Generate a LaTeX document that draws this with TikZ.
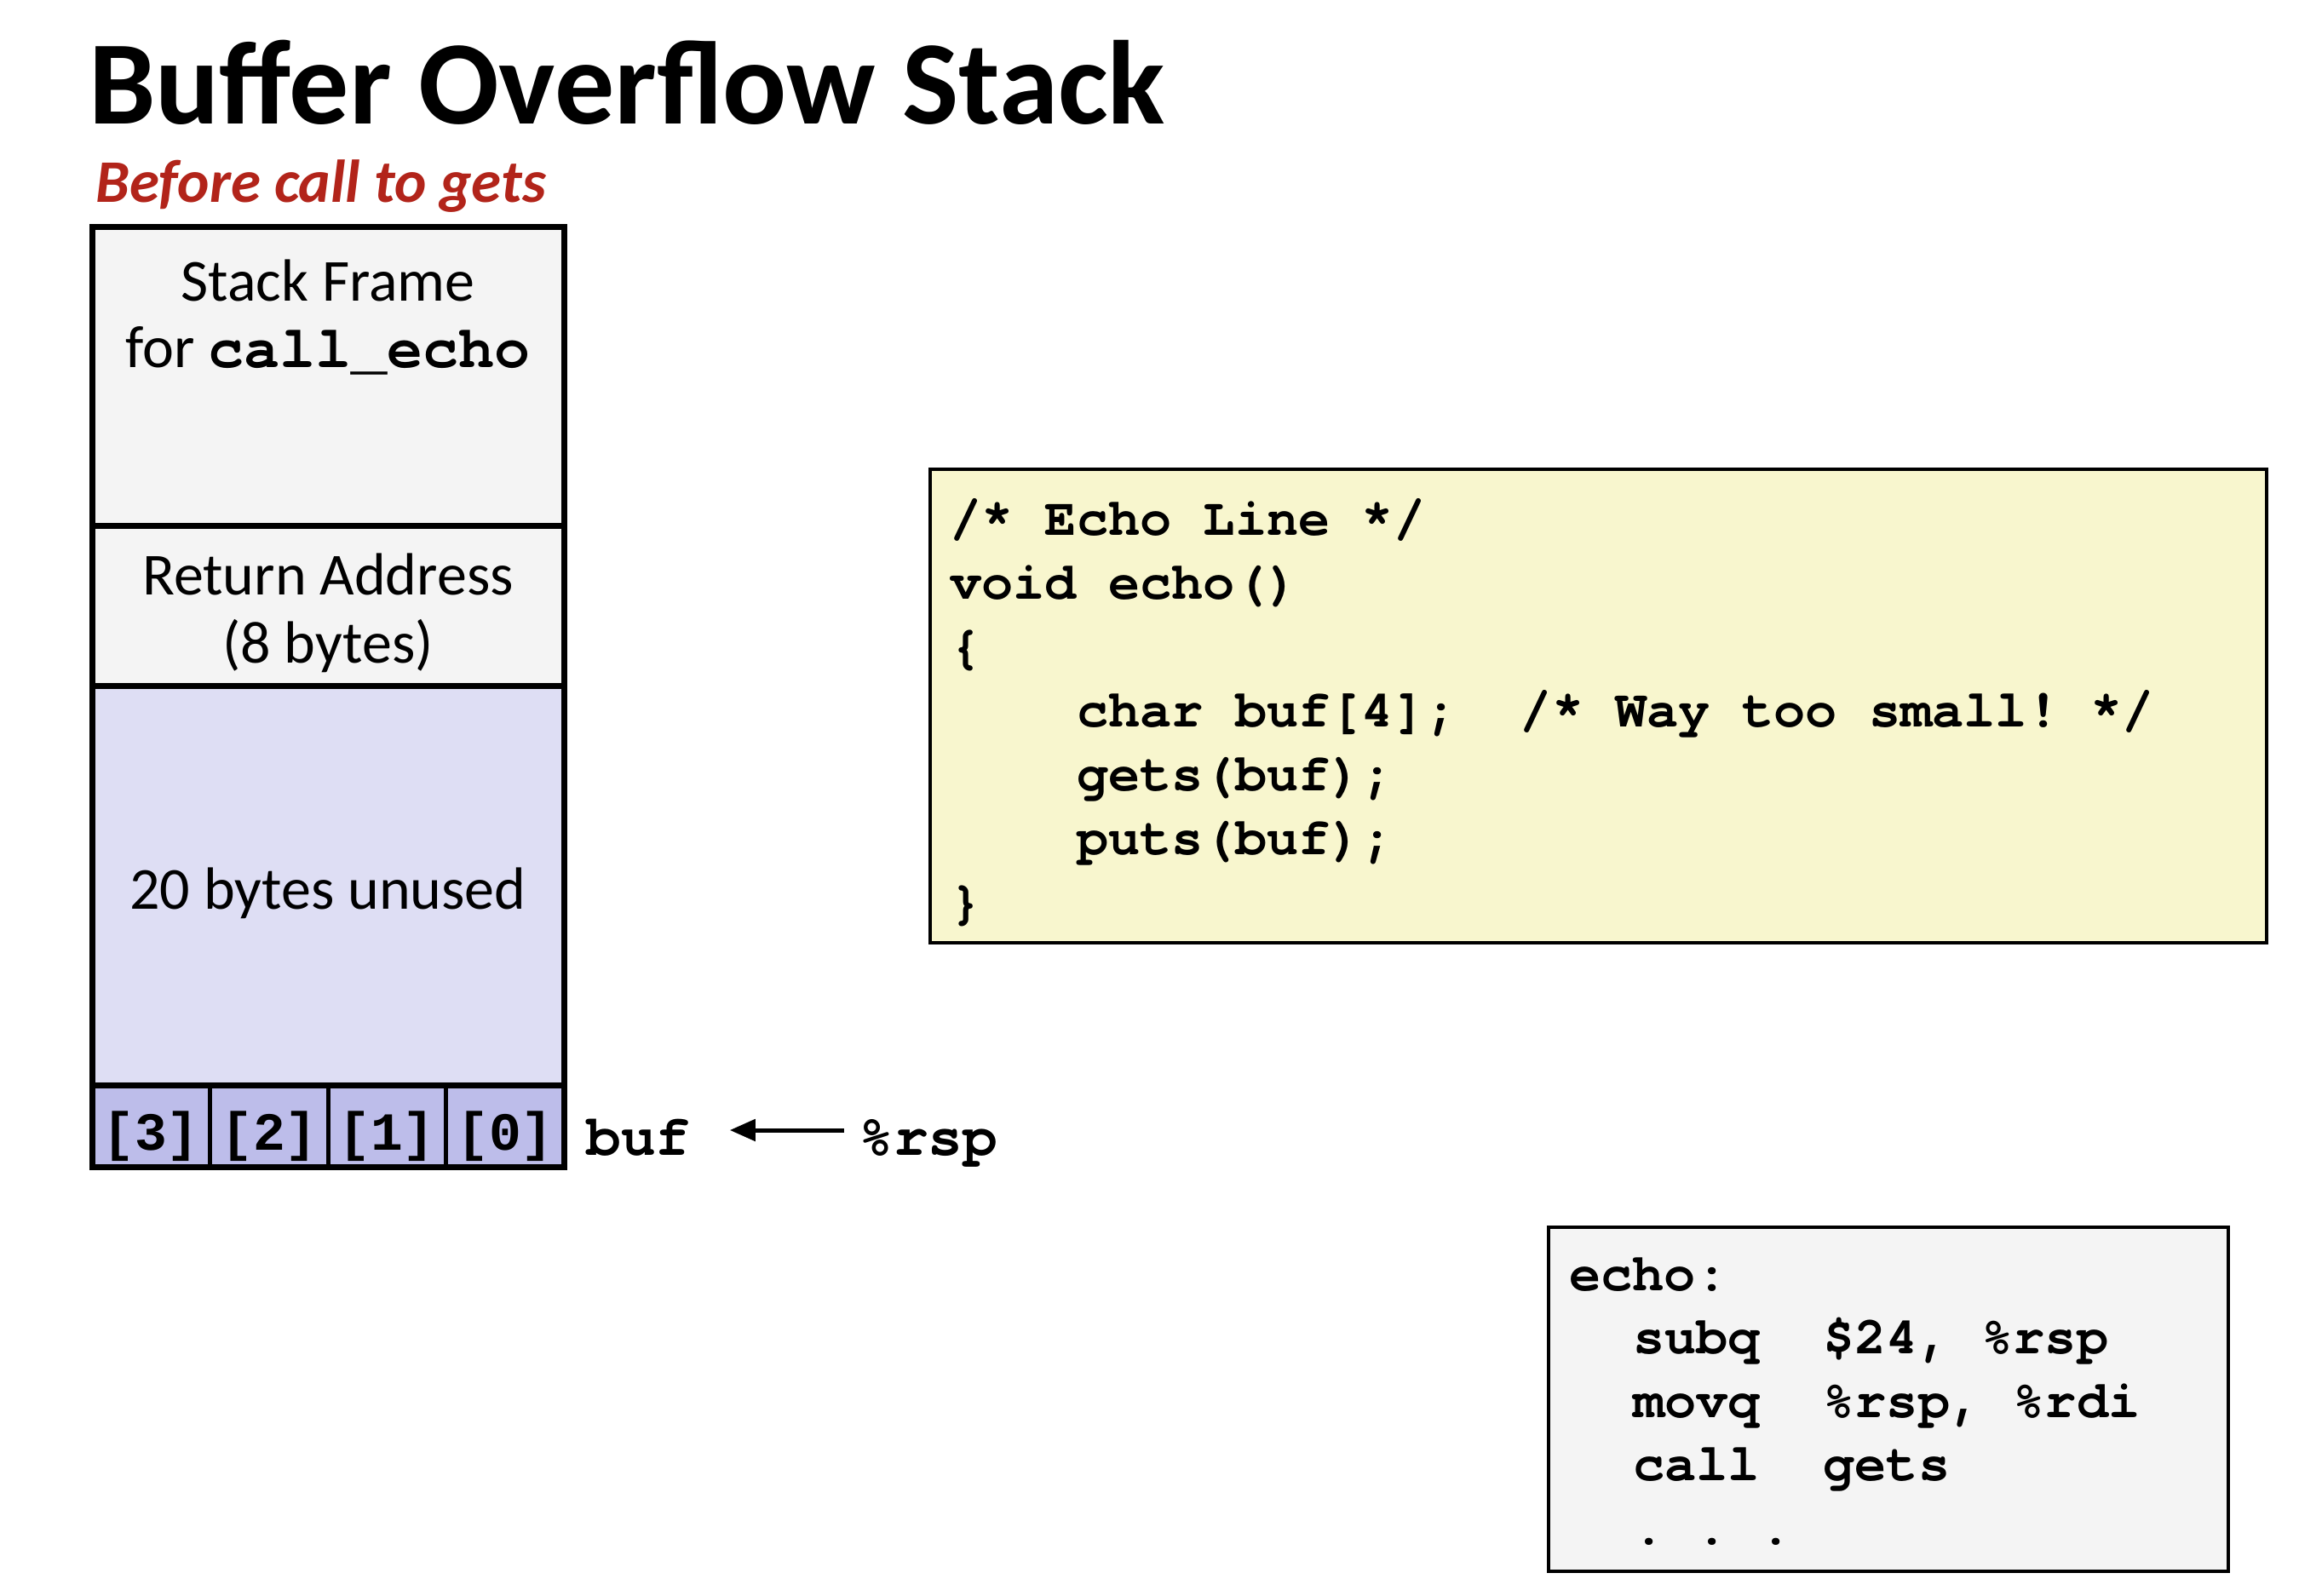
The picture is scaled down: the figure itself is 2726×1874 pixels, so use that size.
\documentclass[tikz,border=0pt]{standalone}
\usepackage{fontspec}
\setmainfont{Carlito}
\newfontfamily\codefont{TeX Gyre Cursor}
\newfontfamily\cellfont{Liberation Mono}
\usetikzlibrary{arrows.meta}
\definecolor{framegray}{RGB}{244,244,244}
\definecolor{unusedfill}{RGB}{222,222,244}
\definecolor{buffill}{RGB}{189,189,234}
\definecolor{codefill}{RGB}{248,246,206}
\definecolor{subred}{RGB}{178,36,26}
\begin{document}
\begin{tikzpicture}[x=1pt,y=-1pt,
  every node/.style={inner sep=0pt},
  sans/.style={anchor=base, font=\fontsize{70}{84}\selectfont},
  mono/.style={font=\codefont\fontsize{68}{80}\selectfont\bfseries},
  cell/.style={anchor=base, font=\cellfont\fontsize{63}{75}\selectfont\bfseries},
  code/.style={anchor=base west, font=\codefont\fontsize{62}{75}\selectfont\bfseries},
  thickline/.style={line width=7pt},
  celldiv/.style={line width=5pt},
  boxline/.style={line width=3.5pt},
  ptr/.style={line width=5pt, -{Triangle[length=30pt,width=25pt]}}]
\frenchspacing
\useasboundingbox (0,0) rectangle (2726,1874);
\fill[white] (0,0) rectangle (2726,1874);

% titles
\node[anchor=base west, font=\bfseries\fontsize{140}{168}\selectfont] (title) at (104,145) {Buffer Overflow Stack};
\node[anchor=base west, text=subred, font=\bfseries\itshape\fontsize{71}{84}\selectfont] (subtitle) at (112,237) {Before call to gets};

% stack fills
\fill[framegray] (108,266) rectangle (662,805);
\fill[unusedfill] (108,805) rectangle (662,1274);
\fill[buffill] (108,1274) rectangle (662,1370);
% stack lines
\draw[celldiv] (246.5,1274) -- (246.5,1370);
\draw[celldiv] (385,1274) -- (385,1370);
\draw[celldiv] (523.5,1274) -- (523.5,1370);
\draw[thickline] (108,617) -- (662,617);
\draw[thickline] (108,805) -- (662,805);
\draw[thickline] (108,1274) -- (662,1274);
\draw[thickline] (108,266) rectangle (662,1370);

% stack labels
\node[sans] (sf1) at (385,353) {Stack Frame};
\node[sans] (sf2) at (385,431) {for {\codefont\bfseries call\_echo}};
\node[sans] (ra1) at (385,698) {Return Address};
\node[sans] (ra2) at (385,778) {(8 bytes)};
\node[sans] (unused) at (385,1067) {20 bytes unused};
\node[cell] (c3) at (177,1350) {[3]};
\node[cell] (c2) at (316,1350) {[2]};
\node[cell] (c1) at (454,1350) {[1]};
\node[cell] (c0) at (593,1350) {[0]};

% buf pointer
\node[mono, anchor=base west, text height=58pt, text depth=0pt] (buflbl) at (688,1356) {buf};
\node[mono, anchor=base west, text height=58pt, text depth=0pt] (rsp) at (1008,1356) {\%rsp};
\draw[ptr, shorten <=17pt, shorten >=46pt] (rsp.west) -- (buflbl.east);

% C code box
\draw[boxline, fill=codefill] (1092,551) rectangle (2661,1107);
\node[code] (l1) at (1115,628) {/* Echo Line */};
\node[code] (l2) at (1115,703) {void echo()};
\node[code] (l3) at (1115,778) {\{};
\node[code] (l4) at (1263.8,853) {char buf[4];\ \ /* Way too small! */};
\node[code] (l5) at (1263.8,928) {gets(buf);};
\node[code] (l6) at (1263.8,1003) {puts(buf);};
\node[code] (l7) at (1115,1078) {\}};

% asm box
\draw[boxline, fill=framegray] (1818,1441) rectangle (2616,1845);
\node[code] (a1) at (1842,1515) {echo:};
\node[code] (a2) at (1917,1589.5) {subq\ \ \$24, \%rsp};
\node[code] (a3) at (1917,1664) {movq\ \ \%rsp, \%rdi};
\node[code] (a4) at (1917,1738.5) {call\ \ gets};
\node[code] (a5) at (1917,1813) {.\ .\ .};
\end{tikzpicture}
\end{document}
